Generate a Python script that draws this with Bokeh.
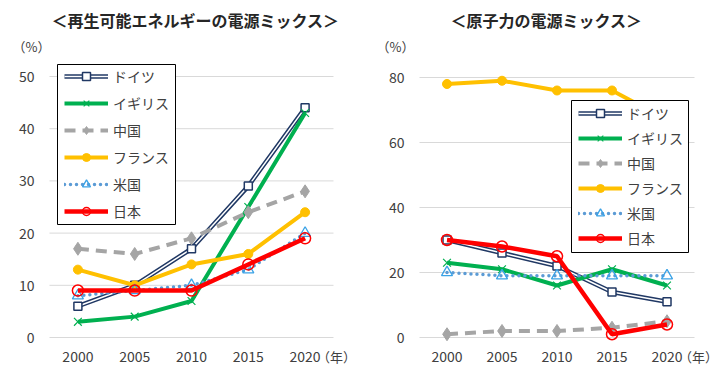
from bokeh.plotting import figure
from bokeh.layouts import row
from bokeh.models import Legend, LegendItem, Label, Range1d, BoxAnnotation
from bokeh.embed import file_html
from bokeh.resources import INLINE
from bokeh.core.properties import value

years = [2000, 2005, 2010, 2015, 2020]
countries = ["ドイツ", "イギリス", "中国", "フランス", "米国", "日本"]

renew_germany = [6, 10, 17, 29, 44]
renew_uk = [3, 4, 7, 25, 43]
renew_china = [17, 16, 19, 24, 28]
renew_france = [13, 10, 14, 16, 24]
renew_us = [8, 9, 10, 13, 20]
renew_japan = [9, 9, 9, 14, 19]

nuc_germany = [30, 26, 22, 14, 11]
nuc_uk = [23, 21, 16, 21, 16]
nuc_china = [1, 2, 2, 3, 5]
nuc_france = [78, 79, 76, 76, 67]
nuc_us = [20, 19, 19, 19, 19]
nuc_japan = [30, 28, 25, 1, 4]

renew_ticks = [0, 10, 20, 30, 40, 50]
nuc_ticks = [0, 20, 40, 60, 80]

FONT = "Noto Sans CJK JP"
TXT = "#404040"
W, H = 361, 370


def make_chart(title, series, yticks, x_range, y_range, box, legend_loc,
               legend_s, title_x, pct_x, year_x):
    p = figure(width=W, height=H, output_backend="svg",
               toolbar_location=None,
               x_range=Range1d(*x_range), y_range=Range1d(*y_range),
               min_border=0, min_border_left=0, min_border_right=0,
               min_border_top=0, min_border_bottom=0)
    p.outline_line_color = None
    p.axis.visible = False
    p.grid.visible = False

    x_lo, x_hi = years[0] - 2.5, years[-1] + 2.5
    p.segment(x0=[x_lo] * len(yticks), y0=yticks,
              x1=[x_hi] * len(yticks), y1=yticks,
              line_color="#d9d9d9", line_width=1)
    p.text(x=[x_lo] * len(yticks), y=yticks, text=[str(t) for t in yticks],
           x_offset=-15, text_align="right", text_baseline="middle",
           text_font=value(FONT), text_font_size="14px", text_color=TXT)
    p.text(x=years, y=[0] * len(years), text=[str(y) for y in years],
           y_offset=19, text_align="center", text_baseline="middle",
           text_font=value(FONT), text_font_size="14px", text_color=TXT)

    g, uk, cn, fr, us, jp = series
    items = []
    r1 = p.line(years, g, line_color="#203864", line_width=4.5)
    r2 = p.line(years, g, line_color="white", line_width=1.5)
    r3 = p.scatter(years, g, marker="square", size=8, line_color="#203864",
                   fill_color="white", line_width=1.5)
    items.append(LegendItem(label=countries[0], renderers=[r1, r2, r3]))
    r1 = p.line(years, uk, line_color="#00b050", line_width=4)
    r2 = p.scatter(years, uk, marker="x", size=11, line_color="#00b050",
                   line_width=1.2)
    items.append(LegendItem(label=countries[1], renderers=[r1, r2]))
    r1 = p.line(years, cn, line_color="#a5a5a5", line_width=4,
                line_dash="11 7")
    r2 = p.scatter(years, cn, marker="diamond", size=13, line_color="#a5a5a5",
                   fill_color="#a5a5a5")
    items.append(LegendItem(label=countries[2], renderers=[r1, r2]))
    r1 = p.line(years, fr, line_color="#ffc000", line_width=4)
    r2 = p.scatter(years, fr, marker="circle", size=9, line_color="#ffc000",
                   fill_color="#ffc000")
    items.append(LegendItem(label=countries[3], renderers=[r1, r2]))
    r1 = p.line(years, us, line_color="#5b9bd5", line_width=3.5,
                line_dash="0 6", line_cap="round")
    r2 = p.scatter(years, us, marker="triangle", size=11, line_color="#3aa2e6",
                   fill_alpha=0, line_width=1.3)
    items.append(LegendItem(label=countries[4], renderers=[r1, r2]))
    r1 = p.line(years, jp, line_color="#ff0000", line_width=4.5)
    r2 = p.scatter(years, jp, marker="circle", size=11, line_color="#ff0000",
                   fill_alpha=0, line_width=1.5)
    items.append(LegendItem(label=countries[5], renderers=[r1, r2]))

    bl, br, bt, bb = box
    p.add_layout(BoxAnnotation(left=bl, right=br, top=bt, bottom=bb,
                               left_units="screen", right_units="screen",
                               top_units="screen", bottom_units="screen",
                               fill_color="white", fill_alpha=1,
                               line_color="black", line_width=1,
                               line_alpha=1))

    legend = Legend(items=items, location=legend_loc,
                    label_text_font=FONT, label_text_font_size="14px",
                    label_text_color=TXT,
                    glyph_width=44, glyph_height=20, label_height=20,
                    label_standoff=5, spacing=legend_s, padding=0,
                    margin=0, border_line_color=None,
                    background_fill_alpha=0)
    p.add_layout(legend)

    p.add_layout(Label(x=title_x, y=H - 19,
                       x_units="screen", y_units="screen", text=title,
                       text_font=FONT, text_font_size="16px",
                       text_font_style="bold", text_color="#262626",
                       text_align="center", text_baseline="middle"))
    p.add_layout(Label(x=pct_x, y=H - 46,
                       x_units="screen", y_units="screen", text="（%）",
                       text_font=FONT, text_font_size="13px",
                       text_color=TXT, text_align="center",
                       text_baseline="middle"))
    p.add_layout(Label(x=year_x, y=H - 356, x_units="screen",
                       y_units="screen",
                       text="（年）", text_font=FONT, text_font_size="13px",
                       text_color=TXT, text_align="center",
                       text_baseline="middle"))
    return p


p1 = make_chart("＜再生可能エネルギーの電源ミックス＞",
                [renew_germany, renew_uk, renew_china, renew_france,
                 renew_us, renew_japan],
                renew_ticks, (1993.187, 2024.965), (-6.322, 64.56),
                box=(57, 175, 306, 146), legend_loc=(64, 149), legend_s=7,
                title_x=195, pct_x=31, year_x=336)
p2 = make_chart("＜原子力の電源ミックス＞",
                [nuc_germany, nuc_uk, nuc_china, nuc_france, nuc_us,
                 nuc_japan],
                nuc_ticks, (1992.227, 2025.045), (-10.154, 103.69),
                box=(210, 327, 270, 118), legend_loc=(217, 122), legend_s=5,
                title_x=185, pct_x=34, year_x=337)

layout = row(p1, p2)
open("out.html", "w").write(file_html(layout, INLINE))
